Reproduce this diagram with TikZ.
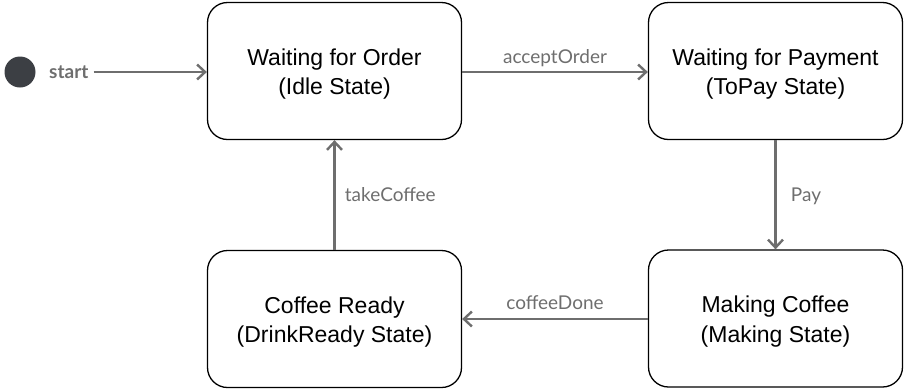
\documentclass[tikz,border=0pt]{standalone}
\usepackage{fontspec}
\setmainfont{Liberation Sans}
\newfontfamily\labelfont{Lato}
\usetikzlibrary{arrows.meta}
\definecolor{edgegray}{HTML}{6E6E6E}
\definecolor{dotgray}{HTML}{3C3F44}
\begin{document}
\begin{tikzpicture}[x=1pt,y=-1pt,
  state/.style={draw=black, line width=1.3pt, rounded corners=20pt,
    minimum width=254pt, minimum height=137pt, inner sep=0pt},
  statetext/.style={align=center, inner sep=0pt,
    font=\fontsize{23}{29.5}\selectfont},
  trans/.style={draw=edgegray, line width=2.8pt,
    -{Straight Barb[length=8pt,width=15pt,line width=2.4pt]}},
  tlabel/.style={text=edgegray, font=\labelfont\fontsize{19}{22}\selectfont, inner sep=0pt}]
\useasboundingbox (0,0) rectangle (904,389);
% state boxes
\node[state] (idle)   at (334.5,71)    {};
\node[state] (topay)  at (775.5,71)    {};
\node[state] (ready)  at (334.5,319)   {};
\node[state] (making) at (775.5,318.5) {};
% state names, set a little below the box centres
\node[statetext] (idle-t)   at ([yshift=-3pt]idle.center)   {Waiting for Order\\(Idle State)};
\node[statetext] (topay-t)  at ([yshift=-3pt]topay.center)  {Waiting for Payment\\(ToPay State)};
\node[statetext] (ready-t)  at ([yshift=-3pt]ready.center)  {Coffee Ready\\(DrinkReady State)};
\node[statetext] (making-t) at ([yshift=-3pt]making.center) {Making Coffee\\(Making State)};
% initial pseudo-state
\node[circle, fill=dotgray, minimum size=31pt, inner sep=0pt] (init) at (20,72) {};
\node[tlabel, font=\labelfont\bfseries\fontsize{19}{22}\selectfont, anchor=west] (startlbl) at (49,72) {start};
% transitions
\draw[trans] (startlbl.east) ++(5pt,0) coordinate (s0) -- (s0 -| idle.west);
\draw[trans] (idle.east |- 0,72) coordinate (a0) -- (a0 -| topay.west)
  node[tlabel, midway, above=4pt] {acceptOrder};
\draw[trans] (topay.south) -- (making.north)
  node[tlabel, midway, right=14pt, yshift=-2pt] {Pay};
\draw[trans] (making.west |- 0,319) coordinate (c0) -- (c0 -| ready.east)
  node[tlabel, midway, above=8pt] {coffeeDone};
\draw[trans] (ready.north) -- (idle.south)
  node[tlabel, midway, right=9pt] {takeCoffee};
\end{tikzpicture}
\end{document}
